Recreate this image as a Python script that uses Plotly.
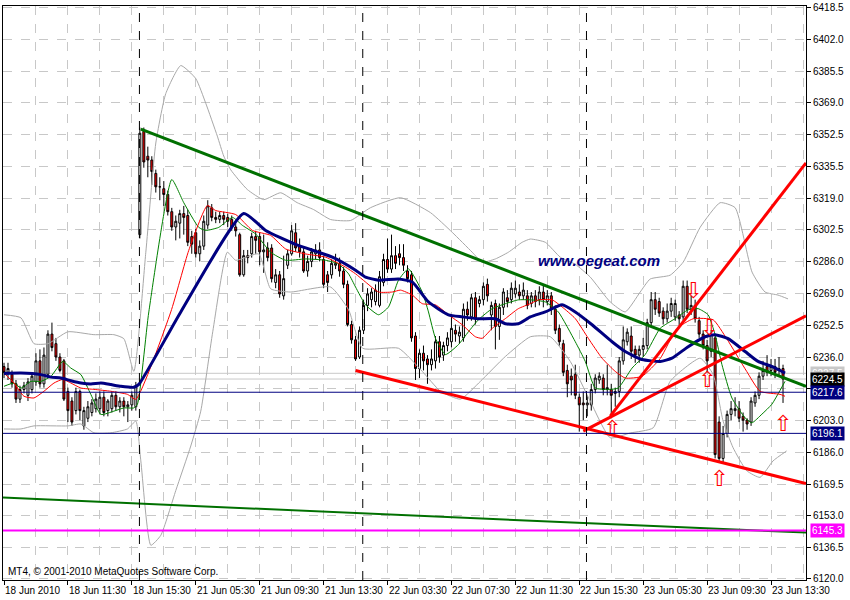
import plotly.graph_objects as go

# ---------------- data (bar index = 15-minute bars) ----------------
opens = [6231,6228,6227,6222,6214,6219,6216,6219,6223,6234,6222,6227,6248,6243,6236,6234,6218,6213,6208,6218,
         6200,6204,6207,6209,6209,6215,6208,6209,6216,6210,6213,6210,6211,6210,
         6300,6354,6341,6339,6332,6325,6324,6321,6312,6304,6306,6311,6310,6299,6301,6290,6294,6305,6314,6309,6308,
         6310,6309,6308,6304,6300,6279,6289,6290,6299,6299,6291,
         6293,6293,6275,6279,6268,6284,6290,6301,6294,6291,6281,6286,6290,6292,6287,6279,6279,6284,6285,6281,6274,
         6253,6245,6236,6250,6263,6266,6265,6263,6275,6287,6282,6289,
         6290,6288,6281,6279,6247,6230,6238,6235,6232,6234,6244,6237,6242,6244,6250,6247,6246,6261,6257,6267,6264,
         6266,6274,6258,6264,6252,6262,6267,6266,6269,6270,6268,6268,
         6264,6268,6266,6270,6265,6268,6261,6251,6243,6229,6226,6227,6215,6212,6211,6211,6219,6224,6225,6219,6219,
         6217,6218,6234,6244,6247,6240,6237,6240,6242,6254,6266,
         6265,6260,6256,6260,6257,6258,6257,6273,6261,6263,6255,6248,6242,6239,6246,6202,6183,6196,6206,6208,6209,
         6205,6203,6202,6212,6216,6226,6231,6229,6231,6229,6230]
highs = [6233,6233,6229,6224,6221,6223,6225,6228,6238,6240,6241,6250,6254,6246,6238,6235,6220,6215,6220,6219,
         6210,6213,6214,6217,6218,6218,6214,6218,6218,6215,6215,6213,6218,6223,
         6356,6356,6346,6341,6334,6330,6328,6323,6314,6310,6313,6315,6313,6302,6303,6297,6310,6318,6316,6312,6312,
         6312,6311,6310,6306,6301,6292,6292,6301,6302,6301,6300,
         6296,6295,6282,6281,6289,6292,6305,6306,6298,6293,6289,6293,6295,6296,6289,6281,6287,6290,6288,6283,6276,
         6255,6247,6252,6266,6272,6272,6274,6281,6290,6298,6300,6294,
         6295,6295,6284,6281,6249,6240,6242,6237,6240,6247,6247,6244,6249,6258,6253,6252,6264,6265,6269,6270,6268,
         6275,6277,6265,6266,6264,6272,6271,6275,6276,6274,6275,6271,
         6270,6271,6273,6274,6271,6270,6263,6253,6245,6232,6230,6232,6217,6218,6216,6222,6227,6228,6227,6232,6222,
         6220,6236,6252,6251,6252,6242,6242,6246,6256,6270,6270,
         6267,6262,6264,6267,6266,6260,6276,6276,6268,6266,6257,6250,6245,6250,6248,6205,6200,6208,6213,6215,6213,
         6207,6204,6215,6218,6228,6234,6237,6235,6235,6236,6232]
lows = [6225,6224,6220,6212,6212,6217,6213,6217,6221,6220,6220,6225,6239,6234,6228,6213,6202,6200,6206,6203,
        6198,6202,6205,6207,6206,6205,6205,6207,6208,6207,6205,6202,6208,6208,
        6298,6335,6330,6326,6322,6318,6315,6310,6302,6297,6298,6300,6294,6290,6288,6286,6292,6303,6307,6306,6306,
        6305,6304,6302,6299,6278,6278,6285,6288,6290,6284,6280,
        6286,6275,6272,6267,6266,6282,6289,6291,6288,6280,6278,6283,6287,6286,6272,6270,6277,6282,6278,6272,6252,
        6243,6234,6235,6248,6260,6262,6263,6262,6273,6280,6280,6282,
        6284,6281,6275,6244,6224,6225,6229,6222,6229,6230,6233,6234,6239,6241,6244,6243,6244,6255,6255,6253,6262,
        6263,6265,6250,6240,6245,6258,6262,6264,6267,6266,6266,6261,
        6262,6262,6263,6262,6263,6258,6248,6242,6226,6215,6216,6214,6197,6203,6205,6208,6217,6222,6216,6216,6204,
        6210,6215,6232,6242,6235,6233,6233,6236,6240,6252,6258,
        6257,6253,6254,6257,6255,6252,6255,6259,6258,6254,6246,6240,6228,6236,6183,6181,6181,6194,6203,6205,6202,
        6197,6198,6200,6210,6214,6224,6226,6226,6225,6226,6212]
closes = [6228,6230,6222,6214,6219,6221,6223,6226,6234,6222,6237,6248,6241,6236,6229,6214,6208,6202,6218,6208,
          6208,6210,6212,6214,6215,6207,6213,6216,6210,6213,6210,6211,6216,6221,
          6353,6338,6339,6333,6325,6325,6321,6312,6304,6307,6311,6309,6296,6295,6290,6294,6307,6315,6309,6308,6310,
          6308,6307,6304,6302,6279,6289,6288,6299,6297,6291,6292,
          6288,6277,6279,6269,6277,6290,6302,6293,6291,6281,6286,6291,6292,6288,6274,6275,6285,6285,6281,6274,6253,
          6245,6235,6250,6263,6269,6270,6271,6278,6287,6282,6289,6285,
          6288,6284,6277,6246,6230,6238,6234,6232,6235,6244,6236,6242,6246,6251,6248,6249,6261,6258,6267,6256,6266,
          6273,6268,6263,6252,6262,6270,6265,6272,6272,6268,6271,6263,
          6268,6265,6270,6266,6268,6261,6250,6244,6228,6222,6224,6216,6211,6211,6212,6219,6225,6226,6219,6220,6216,
          6218,6234,6245,6249,6239,6237,6240,6242,6254,6266,6261,
          6259,6256,6260,6264,6264,6256,6273,6261,6263,6256,6248,6242,6234,6248,6185,6183,6196,6206,6209,6209,6204,
          6203,6201,6213,6216,6226,6229,6228,6231,6228,6230,6224.5]
bars = list(range(len(closes)))

# indicator lines: (bar, price) samples
blue_x = [0,4.25,9.25,11.75,14.25,16.75,19.25,21.75,24.25,26.75,29.25,32.5,33.75,44.25,60,65.5,73,82.2,88,90.5,93.75,
          98.75,102.2,106.25,111.25,114.75,118.75,123,125.5,128.75,131.75,135.5,139.7,143,147.2,152.2,155.5,159.7,
          164.25,167.2,171.25,175.5,178,181.25,185.5,188.75,192.2,195.5]
blue_y = [6227.4,6227.6,6226.8,6225.5,6225.0,6223.6,6222.4,6221.9,6222.4,6221.6,6220.7,6220.2,6221.7,6259.6,6311.0,
          6302.2,6294.9,6288.2,6281.4,6277.8,6276.2,6276.8,6275.2,6264.8,6258.1,6257.0,6256.0,6256.0,6253.4,6253.4,
          6257.0,6259.6,6263.3,6259.6,6252.9,6244.0,6238.9,6234.7,6233.7,6235.4,6241.4,6246.6,6247.7,6245.6,6238.9,
          6233.7,6231.1,6227.6]
red_x = [0,2.5,5,7.5,10,12.5,14.7,16.75,19.25,22.5,26.75,30.9,33,41.75,46.25,50.9,53,58,62.2,66.75,70.5,75.5,80.5,
         85.5,88,90.5,93.75,97.2,99.25,102.2,104.7,108,111.25,114.7,118,119.7,122.2,125.5,128.75,131.75,133.75,137.2,
         139.7,143,146.25,149.7,153,155.5,159.7,164.25,168.4,172.5,177.5,180.9,185.9,189.25,194.25,195.5]
red_y = [6227.6,6222.4,6215.5,6214.6,6218.1,6222.4,6224.3,6222.4,6219.8,6219.1,6218.1,6216.5,6213.9,6259.6,6291.8,
         6315.2,6312.6,6310.5,6302.2,6299.6,6292.5,6289.9,6288.2,6283.0,6279.5,6275.2,6270.0,6270.0,6271.0,6268.4,
         6263.9,6263.3,6258.1,6252.9,6246.6,6245.8,6251.0,6256.1,6261.3,6263.9,6265.9,6265.9,6262.2,6256.1,6245.8,
         6235.4,6228.5,6225.0,6225.9,6235.2,6250.8,6256.0,6255.5,6245.6,6228.5,6218.1,6216.5,6215.5]
green_x = [0,2.5,4.25,6.75,9.25,11.75,14.7,16.75,19.25,21.75,24.25,27.5,30,32.5,33.4,36.25,42,45,48.75,50.5,53.75,
           57.2,59.7,63,66.75,70.5,75.5,80.5,83.75,86.25,88,90.5,93.75,96.25,98.75,101.25,104.7,106.25,108,110.5,
           113.75,116.25,118.75,122.2,125.5,128.75,131.75,135.5,138.75,143,145.5,148,151.25,153.75,157.2,160.5,
           164.25,168,171.25,173.75,176.25,178,179.7,182.2,185.5,187.2,189.7,192.2,195.5]
green_y = [6220.7,6222.4,6219.8,6223.3,6223.3,6225.9,6233.7,6230.2,6226.8,6216.4,6206.0,6207.7,6209.4,6209.4,6211.3,
           6259.6,6328.8,6316.7,6303.8,6302.2,6303.8,6309.0,6304.8,6300.3,6290.8,6286.6,6287.3,6286.6,6284.7,6279.5,
           6272.6,6263.3,6258.1,6262.2,6276.2,6282.1,6270.0,6259.6,6245.8,6237.3,6242.5,6249.2,6255.5,6261.3,6263.9,
           6265.9,6265.9,6264.8,6259.6,6244.0,6233.7,6219.8,6219.1,6219.8,6230.2,6237.3,6251.0,6256.1,6260.7,6261.3,
           6258.1,6247.7,6232.1,6214.6,6204.2,6201.6,6206.1,6211.3,6223.3]
bbu_x = [0,4.25,7.5,11,16,22.5,27.5,30,32.5,35.5,38,40.5,44.25,48,50.5,53.4,55,56.75,60.9,65,69.25,73.4,77.5,81.75,
         86.75,91.75,99.25,106.75,112.2,117.2,119.7,123,126.25,129.7,131.75,135.5,139.25,143,146.75,151.75,155.5,
         159.25,161.75,166.75,170,174.25,179.25,183,187.25,190.5,193.75,196.25]
bbu_y = [6258.1,6256.5,6243.0,6243.0,6249.2,6247.7,6247.7,6245.6,6228.5,6290.8,6347.9,6373.8,6388.4,6381.6,6368.7,
         6351.5,6341.1,6333.9,6323.6,6318.3,6321.9,6316.7,6313.1,6307.9,6307.4,6314.1,6319.3,6311.5,6301.2,6290.8,
         6285.6,6287.3,6290.8,6296.0,6297.7,6296.0,6288.2,6284.5,6277.8,6264.8,6259.6,6270.0,6276.8,6278.8,6285.6,
         6303.8,6316.7,6314.1,6280.4,6270.0,6268.4,6266.4]
bbl_x = [0,4.25,7.5,16,19.25,22.5,26.75,30.9,33,34.25,36.75,39.25,43,46.75,49.25,52.25,55.9,58,63.75,66.75,71.75,
         81.75,86.25,89.75,98.75,104.7,109.25,114.25,119.25,125.5,131.75,136.75,141.75,146.75,151.75,156.75,162.5,
         166.75,174.25,177.5,180,182.5,185.9,189.25,192.5,195.9]
bbl_y = [6198.4,6198.4,6200.0,6200.0,6201.0,6196.4,6196.4,6198.4,6202.5,6181.7,6137.6,6142.8,6166.2,6189.5,6207.7,
         6249.2,6290.8,6286.6,6289.9,6271.7,6270.0,6272.6,6260.7,6240.6,6240.6,6228.5,6218.1,6214.0,6223.3,6236.3,
         6246.6,6246.6,6233.7,6212.9,6193.8,6196.3,6199.0,6223.3,6235.4,6226.9,6202.5,6188.6,6176.6,6173.1,6181.7,
         6186.9]

# trend lines (start bar, end bar), (start price, end price)
green_upper = ([34.25, 200.75], [6355.2, 6220.7])
green_lower = ([-0.25, 200.75], [6162.5, 6144.2])
red_lower = ([88.0, 200.75], [6229.0, 6169.8])
red_mid = ([145.0, 200.75], [6197.3, 6257.5])
red_steep = ([151.75, 200.75], [6205.1, 6337.5])

# signal arrows
up_x = [152.25, 176.0, 179.0, 195.0]
up_y = [6197.8, 6223.3, 6171.4, 6200.0]
dn_x = [172.5, 176.5]
dn_y = [6270.0, 6250.3]

# horizontal levels
level_navy = [6217.6, 6196.1]
level_magenta = 6145.3
ask, bid = 6227.5, 6224.5
separators = [33.9, 89.8, 145.8]

ytick_vals = [6120.0,6136.5,6153.0,6169.5,6186.0,6203.0,6219.5,6236.0,6252.5,6269.0,6286.0,6302.5,6319.0,6335.5,
              6352.5,6369.0,6385.5,6402.0,6418.5]
ytick_text = ["6120.0","6136.5","6153.0","6169.5","6186.0","6203.0","","6236.0","6252.5","6269.0","6286.0",
              "6302.5","6319.0","6335.5","6352.5","6369.0","6385.5","6402.0","6418.5"]
xlabel_bars = [0,16,32,48,64,80,96,112,128,144,160,176,192]
xlabel_text = ["18 Jun 2010","18 Jun 11:30","18 Jun 15:30","21 Jun 05:30","21 Jun 09:30","21 Jun 13:30",
               "22 Jun 03:30","22 Jun 07:30","22 Jun 11:30","22 Jun 15:30","23 Jun 05:30","23 Jun 09:30",
               "23 Jun 13:30"]

FONT = "Liberation Sans"
fig = go.Figure()

fig.add_trace(go.Candlestick(
    x=bars, open=opens, high=highs, low=lows, close=closes,
    increasing=dict(line=dict(color="black", width=1), fillcolor="white"),
    decreasing=dict(line=dict(color="black", width=1), fillcolor="#FF0000"),
    whiskerwidth=0, showlegend=False, hoverinfo="skip"))

def line(xs, ys, col, w, shape="spline"):
    fig.add_trace(go.Scatter(x=xs, y=ys, mode="lines", line=dict(color=col, width=w, shape=shape, smoothing=0.5),
                             showlegend=False, hoverinfo="skip"))

line(bbu_x, bbu_y, "#A8A8A8", 1)
line(bbl_x, bbl_y, "#A8A8A8", 1)
line(green_x, green_y, "#008000", 1)
line(red_x, red_y, "#FF0000", 1)
line(blue_x, blue_y, "#000080", 3)

for (lx, ly), col, w in [(green_upper, "#007000", 3), (green_lower, "#007000", 2),
                         (red_lower, "#FF0000", 3), (red_mid, "#FF0000", 3), (red_steep, "#FF0000", 3)]:
    line(lx, ly, col, w, "linear")

fig.add_trace(go.Scatter(x=up_x, y=up_y, mode="text", text=["⇧"] * len(up_x),
                         textfont=dict(color="#FF0000", size=22, family="DejaVu Sans"), showlegend=False,
                         hoverinfo="skip"))
fig.add_trace(go.Scatter(x=dn_x, y=dn_y, mode="text", text=["⇩"] * len(dn_x),
                         textfont=dict(color="#FF0000", size=22, family="DejaVu Sans"), showlegend=False,
                         hoverinfo="skip"))

shapes = []
for s in separators:
    shapes.append(dict(type="line", xref="x", yref="paper", x0=s, x1=s, y0=0, y1=1,
                       line=dict(color="black", width=1, dash="dash"), layer="above"))
for lv in [ask, bid]:
    shapes.append(dict(type="line", xref="paper", yref="y", x0=0, x1=1, y0=lv, y1=lv,
                       line=dict(color="#C8C8C8", width=1), layer="below"))
for lv in level_navy:
    shapes.append(dict(type="line", xref="paper", yref="y", x0=0, x1=1, y0=lv, y1=lv,
                       line=dict(color="#000080", width=1), layer="above"))
shapes.append(dict(type="line", xref="paper", yref="y", x0=0, x1=1, y0=level_magenta, y1=level_magenta,
                   line=dict(color="#FF00FF", width=2), layer="above"))

annotations = []
for b, t in zip(xlabel_bars, xlabel_text):
    annotations.append(dict(x=b, xref="x", y=0, yref="paper", yanchor="top", xanchor="left", yshift=-3,
                            xshift=-1, text=t, showarrow=False, font=dict(family=FONT, size=10, color="black")))
for val, bg, fg in [(ask, "#C8C8C8", "white"), (bid, "black", "white"), (level_navy[0], "#000080", "white"),
                    (level_navy[1], "#000080", "white"), (level_magenta, "#FF00FF", "white")]:
    annotations.append(dict(x=1, xref="paper", y=val, yref="y", xanchor="left", yanchor="middle", xshift=4,
                            text=f"{val:.1f}", showarrow=False, bgcolor=bg, borderpad=1,
                            font=dict(family=FONT, size=10, color=fg)))
annotations.append(dict(x=0.742, xref="paper", y=6286.6, yref="y", xanchor="center", yanchor="middle",
                        text="<b><i>www.oegeat.com</i></b>",
                        showarrow=False, font=dict(family=FONT, size=15, color="#000080")))
annotations.append(dict(x=0, xref="paper", y=0, yref="paper", xanchor="left", yanchor="bottom", xshift=3, yshift=1,
                        text="MT4, © 2001-2010 MetaQuotes Software Corp.", showarrow=False,
                        font=dict(family=FONT, size=10, color="black")))

fig.update_layout(
    width=850, height=600, margin=dict(l=2, r=44, t=2, b=20),
    paper_bgcolor="white", plot_bgcolor="white",
    shapes=shapes, annotations=annotations, showlegend=False,
    xaxis=dict(range=[-0.25, 200.75], rangeslider=dict(visible=False), tickvals=xlabel_bars,
               showticklabels=False, ticks="outside", ticklen=4, tickcolor="black",
               showgrid=True, gridcolor="#C8C8C8", griddash="dash", gridwidth=1,
               minor=dict(tickvals=[b + 8 for b in xlabel_bars], showgrid=True, gridcolor="#C8C8C8",
                          griddash="dash", ticks=""),
               showline=True, linecolor="black", linewidth=1, mirror=True, zeroline=False),
    yaxis=dict(range=[6119.43, 6419.54], side="right", tickvals=ytick_vals, ticktext=ytick_text,
               ticks="outside", ticklen=4, tickcolor="black", tickfont=dict(family=FONT, size=10, color="black"),
               ticklabeloverflow="allow",
               showgrid=True, gridcolor="#C8C8C8", griddash="dash", gridwidth=1,
               showline=True, linecolor="black", linewidth=1, mirror=True, zeroline=False),
)

fig.write_html("out.html", config={"displayModeBar": False},
               post_script="document.body.style.margin='0';document.body.style.padding='0';")
